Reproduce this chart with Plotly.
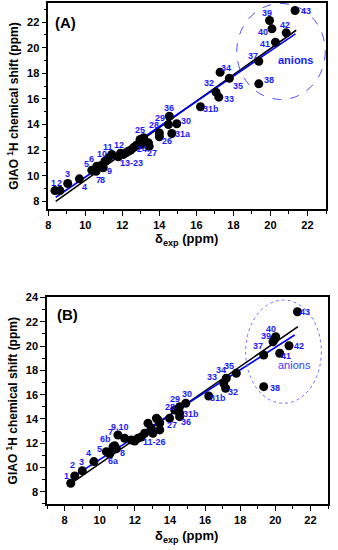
import plotly.graph_objects as go

FONT = "Arial, Liberation Sans, Helvetica, sans-serif"
BLUE_TXT = "#1a1aff"

# ---------------- Panel A data ----------------
a_x = [8.36, 8.63, 9.05, 9.68, 10.35, 10.58, 10.62, 10.85, 10.97, 11.06, 11.24, 11.43,
       11.78, 11.9, 12.05, 12.2, 12.32, 12.45, 12.59, 12.7, 12.78, 12.96, 13.05, 13.14,
       13.23, 13.41, 13.45, 14.0, 14.0, 14.49, 14.54, 14.67, 14.94, 16.22, 17.06, 17.21,
       17.28, 17.78, 19.37, 19.37, 19.95, 20.08, 20.27, 20.85, 21.33]
a_y = [8.84, 8.84, 9.39, 9.76, 10.43, 10.35, 10.74, 10.8, 10.62, 11.13, 11.4, 11.66,
       11.48, 11.75, 11.66, 11.8, 11.91, 12.0, 12.18, 12.3, 12.4, 12.83, 12.44, 12.96,
       12.7, 12.57, 12.3, 13.35, 13.05, 14.0, 14.65, 13.3, 14.06, 15.39, 16.53, 16.14,
       18.09, 17.62, 18.95, 17.18, 22.13, 21.48, 20.44, 21.17, 22.91]
a_black_x = [8.4, 21.39]
a_black_y = [8.0, 21.37]
a_blue_x = [8.4, 21.35]
a_blue_y = [8.32, 21.09]
a_lab_text = ["1", "2", "3", "4", "5", "6", "7", "8", "9", "10", "11", "12", "13-23",
              "24", "27", "25", "28", "26", "31a", "29", "30", "36", "31b", "32", "33",
              "34", "35", "37", "38", "41", "40", "39", "42", "43"]
a_lab_x = [8.27, 8.63, 9.05, 9.93, 10.08, 10.35, 10.7, 10.94, 11.28, 10.92, 11.24, 11.82,
           12.47, 13.08, 13.59, 12.96, 13.71, 14.43, 15.26, 14.04, 15.43, 14.52, 16.79,
           16.7, 17.78, 17.6, 18.22, 19.03, 19.91, 19.71, 19.62, 19.81, 20.79, 21.93]
a_lab_y = [9.44, 9.44, 10.17, 9.13, 10.93, 11.32, 9.7, 9.7, 10.35, 11.73, 12.26, 12.38,
           11.0, 12.1, 11.79, 13.61, 13.95, 12.75, 13.3, 14.52, 14.26, 15.31, 15.23,
           17.26, 15.96, 18.43, 17.05, 19.34, 17.47, 20.26, 21.25, 22.73, 21.77, 22.91]
a_ellipse = [18.18, 15.96, 22.96, 23.46]

# ---------------- Panel B data ----------------
b_x = [8.35, 8.58, 9.01, 9.67, 10.38, 10.57, 10.76, 10.85, 10.95, 11.04, 11.42, 11.8,
       11.99, 12.18, 12.37, 12.56, 12.75, 12.94, 13.03, 13.23, 13.32, 13.42, 13.42,
       13.98, 14.27, 14.55, 14.55, 14.55, 14.9, 16.21, 17.06, 17.17, 17.21, 17.78,
       19.34, 19.34, 19.87, 19.95, 20.02, 20.25, 20.78, 21.26]
b_y = [8.71, 9.31, 9.74, 10.49, 11.31, 11.12, 11.72, 11.8, 11.55, 12.68, 12.41, 12.27,
       12.19, 12.41, 12.52, 12.82, 13.65, 13.23, 12.82, 14.06, 13.92, 13.1, 13.67,
       14.06, 14.74, 15.01, 14.49, 14.19, 15.29, 15.89, 16.94, 16.53, 17.35, 17.76,
       19.27, 16.66, 20.36, 20.55, 20.77, 19.41, 20.03, 22.83]
b_black_x = [8.52, 21.29]
b_black_y = [8.84, 21.6]
b_blue_x = [8.48, 21.1]
b_blue_y = [9.25, 20.91]
b_lab_text = ["1", "2", "3", "4", "5", "6a", "6b", "7", "8", "9,10", "11-26", "27", "28",
              "29", "30", "31b", "36", "31b", "33", "34", "35", "32", "37", "38", "39",
              "40", "41", "42", "43"]
b_lab_x = [8.1, 8.44, 8.96, 9.39, 10.0, 10.81, 10.32, 10.63, 11.29, 11.18, 13.13, 14.12,
           13.98, 14.31, 14.97, 15.22, 14.9, 16.74, 16.39, 16.93, 17.36, 17.59, 19.01,
           19.96, 19.45, 19.74, 20.63, 21.35, 21.67]
b_lab_y = [9.31, 10.19, 10.49, 11.18, 11.53, 10.57, 12.33, 12.91, 11.23, 13.37, 12.13,
           13.51, 15.01, 15.62, 16.03, 14.41, 13.78, 15.7, 17.43, 18.03, 18.39, 16.25,
           20.01, 16.53, 20.83, 21.38, 19.21, 20.01, 22.78]
b_ellipse = [18.31, 15.29, 22.62, 23.79]

X_TITLE = "δ<sub>exp</sub> (ppm)"
Y_TITLE = "GIAO <sup>1</sup>H chemical shift (ppm)"

fig = go.Figure()

for xs, ys, col, ax in [(a_black_x, a_black_y, "black", "1"), (a_blue_x, a_blue_y, "#0000ff", "1"),
                        (b_black_x, b_black_y, "black", "2"), (b_blue_x, b_blue_y, "#0000ff", "2")]:
    fig.add_trace(go.Scatter(x=xs, y=ys, mode="lines", line=dict(color=col, width=1.6),
                             xaxis="x" if ax == "1" else "x2", yaxis="y" if ax == "1" else "y2",
                             showlegend=False, hoverinfo="skip"))

fig.add_trace(go.Scatter(x=a_x, y=a_y, mode="markers", marker=dict(color="black", size=9),
                         xaxis="x", yaxis="y", showlegend=False))
fig.add_trace(go.Scatter(x=b_x, y=b_y, mode="markers", marker=dict(color="black", size=9),
                         xaxis="x2", yaxis="y2", showlegend=False))

annotations = []
lab_font = dict(family=FONT, size=9, color=BLUE_TXT, weight="bold")
for t, x, y in zip(a_lab_text, a_lab_x, a_lab_y):
    annotations.append(dict(text=t, x=x, y=y, xref="x", yref="y", showarrow=False, font=lab_font))
for t, x, y in zip(b_lab_text, b_lab_x, b_lab_y):
    annotations.append(dict(text=t, x=x, y=y, xref="x2", yref="y2", showarrow=False, font=lab_font))
annotations.append(dict(text="anions", x=21.37, y=19.03, xref="x", yref="y", showarrow=False,
                        font=dict(family=FONT, size=11, color=BLUE_TXT, weight="bold")))
annotations.append(dict(text="anions", x=21.1, y=18.45, xref="x2", yref="y2", showarrow=False,
                        font=dict(family=FONT, size=11, color="#3a3aff")))
annotations.append(dict(text="(A)", x=8.94, y=21.95, xref="x", yref="y", showarrow=False,
                        font=dict(family=FONT, size=15, color="black", weight="bold")))
annotations.append(dict(text="(B)", x=8.19, y=22.56, xref="x2", yref="y2", showarrow=False,
                        font=dict(family=FONT, size=15, color="black", weight="bold")))
# x-axis titles
xtitlefont = dict(family=FONT, size=13, color="black", weight="bold")
annotations.append(dict(text=X_TITLE, x=0.498, y=0.527, xref="paper", yref="paper",
                        xanchor="center", yanchor="middle", showarrow=False, font=xtitlefont))
annotations.append(dict(text=X_TITLE, x=0.497, y=-0.064, xref="paper", yref="paper",
                        xanchor="center", yanchor="middle", showarrow=False, font=xtitlefont))

shapes = [
    dict(type="circle", xref="x", yref="y", x0=a_ellipse[0], y0=a_ellipse[1], x1=a_ellipse[2],
         y1=a_ellipse[3], line=dict(color="#5050ff", width=1, dash="dash")),
    dict(type="circle", xref="x2", yref="y2", x0=b_ellipse[0], y0=b_ellipse[1], x1=b_ellipse[2],
         y1=b_ellipse[3], line=dict(color="#7070ff", width=1, dash="dot")),
]

tickfont = dict(family=FONT, size=11, color="black", weight="bold")
titlefont = dict(family=FONT, size=12, color="black", weight="bold")


def axis_common():
    return dict(showline=True, linecolor="black", linewidth=1.5, mirror=True, ticks="outside",
                ticklen=5, tickwidth=1.2, tickcolor="black", showgrid=False, zeroline=False,
                tickfont=tickfont, dtick=2, automargin=False,
                minor=dict(ticks="outside", ticklen=3, tickwidth=1, tickcolor="black", dtick=1))


fig.update_layout(
    width=338, height=550, plot_bgcolor="white", paper_bgcolor="white",
    margin=dict(l=47, r=10, t=3, b=46),
    showlegend=False,
    annotations=annotations, shapes=shapes,
    xaxis=dict(**axis_common(), domain=[0.0046, 0.9929], range=[8, 23], tick0=8, anchor="y"),
    yaxis=dict(**axis_common(), domain=[0.5888, 1], range=[7.4, 23.5], tick0=8, anchor="x",
               title=dict(text=Y_TITLE, font=titlefont, standoff=6)),
    xaxis2=dict(**axis_common(), domain=[0, 1], range=[7, 23], tick0=8, anchor="y2"),
    yaxis2=dict(**axis_common(), domain=[0, 0.4122], range=[7, 24], tick0=8, anchor="x2",
                title=dict(text=Y_TITLE, font=titlefont, standoff=6)),
)

fig.write_html("out.html", config={"displayModeBar": False},
               post_script="document.body.style.margin='0';document.body.style.padding='0';")
